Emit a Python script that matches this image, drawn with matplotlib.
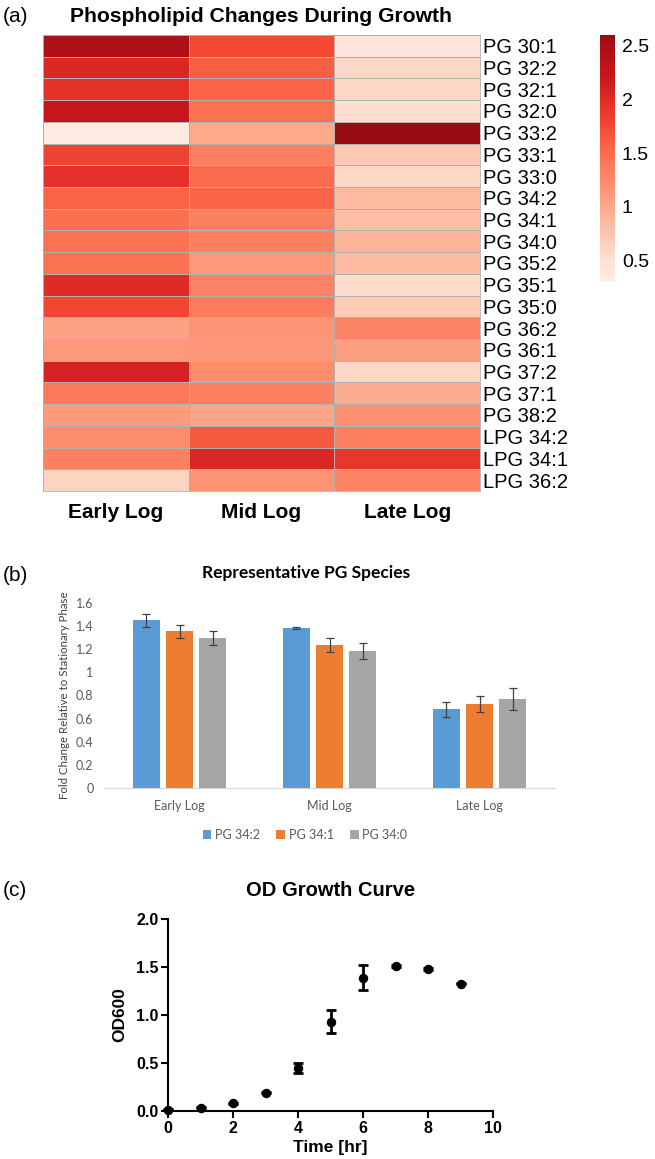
import numpy as np
import matplotlib
matplotlib.use("Agg")
import matplotlib.pyplot as plt
from matplotlib.colors import LinearSegmentedColormap

# ---- data ----
lipids = ["PG 30:1", "PG 32:2", "PG 32:1", "PG 32:0", "PG 33:2", "PG 33:1",
          "PG 33:0", "PG 34:2", "PG 34:1", "PG 34:0", "PG 35:2", "PG 35:1",
          "PG 35:0", "PG 36:2", "PG 36:1", "PG 37:2", "PG 37:1", "PG 38:2",
          "LPG 34:2", "LPG 34:1", "LPG 36:2"]
phases = ["Early Log", "Mid Log", "Late Log"]
early = [2.45, 2.05, 1.95, 2.25, 0.35, 1.80, 1.95, 1.55, 1.47, 1.45, 1.45,
         2.00, 1.78, 1.05, 1.12, 2.10, 1.40, 1.10, 1.22, 1.32, 0.62]
mid = [1.75, 1.60, 1.55, 1.45, 1.00, 1.35, 1.50, 1.55, 1.35, 1.32, 1.12,
       1.30, 1.36, 1.15, 1.13, 1.22, 1.32, 1.04, 1.65, 2.05, 1.17]
late = [0.45, 0.60, 0.60, 0.52, 2.60, 0.72, 0.58, 0.85, 0.82, 0.90, 0.85,
        0.55, 0.70, 1.30, 1.08, 0.58, 0.97, 1.20, 1.32, 1.90, 1.30]

species = ["PG 34:2", "PG 34:1", "PG 34:0"]
fold_mean = {"PG 34:2": [1.45, 1.385, 0.68],
             "PG 34:1": [1.355, 1.235, 0.73],
             "PG 34:0": [1.30, 1.185, 0.77]}
fold_err = {"PG 34:2": [0.055, 0.01, 0.062],
            "PG 34:1": [0.055, 0.06, 0.07],
            "PG 34:0": [0.06, 0.065, 0.095]}
bar_colors = ["#5B9BD5", "#ED7D31", "#A5A5A5"]

time_hr = [0, 1, 2, 3, 4, 5, 6, 7, 8, 9]
od600 = [0.014, 0.035, 0.08, 0.19, 0.45, 0.93, 1.386, 1.508, 1.48, 1.328]
od_err = [0.005, 0.005, 0.005, 0.005, 0.054, 0.118, 0.13, 0.01, 0.01, 0.01]

W, H = 655, 1159
fig = plt.figure(figsize=(W / 100, H / 100), dpi=100)


def px_axes(l, t, r, b):
    return fig.add_axes([l / W, 1 - b / H, (r - l) / W, (b - t) / H])


# ---- (a) heatmap ----
arial = "Liberation Sans"
cmap = LinearSegmentedColormap.from_list(
    "reds_cut", plt.cm.Reds(np.linspace(0.05, 0.9, 256)))
grid = np.column_stack([early, mid, late])

ax = px_axes(43, 35, 480, 491)
mesh = ax.pcolormesh(grid, cmap=cmap, vmin=0.3, vmax=2.6,
                     edgecolors="#B0B0B0", linewidth=0.6)
ax.set_xlim(0, 3)
ax.set_ylim(len(lipids), 0)
ax.set_xticks(np.arange(3) + 0.5)
ax.set_xticklabels(phases, fontsize=15, fontweight="bold", family=arial)
ax.set_yticks(np.arange(len(lipids)) + 0.5)
ax.set_yticklabels(lipids, fontsize=14.5, family=arial)
ax.yaxis.tick_right()
ax.tick_params(axis="both", length=0)
ax.tick_params(axis="x", pad=9)
ax.tick_params(axis="y", pad=2)
for s in ax.spines.values():
    s.set_color("#B0B0B0")
    s.set_linewidth(0.6)

cax = px_axes(600, 35, 615, 282)
cb = fig.colorbar(mesh, cax=cax, ticks=[0.5, 1, 1.5, 2, 2.5])
cb.ax.set_yticklabels(["0.5", "1", "1.5", "2", "2.5"], family=arial)
cb.outline.set_visible(False)
cb.ax.tick_params(length=0, labelsize=14, pad=5)

fig.text(3 / W, 1 - 16 / H, "(a)", fontsize=15, family=arial, va="center")
fig.text(261 / W, 1 - 16 / H, "Phospholipid Changes During Growth",
         fontsize=15.2, fontweight="bold", family=arial, ha="center", va="center")

# ---- (b) bar chart ----
calib = "Lato"
axb = px_axes(104.5, 603, 554.5, 788)
x = np.arange(len(phases))
for i, sp in enumerate(species):
    axb.bar(x + (i - 1) * 0.222, fold_mean[sp], 0.178, color=bar_colors[i],
            yerr=fold_err[sp], label=sp,
            error_kw=dict(ecolor="#404040", elinewidth=0.9, capsize=3, capthick=0.9))
axb.set_xlim(-0.5, 2.5)
axb.set_ylim(0, 1.6)
axb.set_yticks(np.arange(0, 1.61, 0.2))
axb.set_yticklabels([f"{v:g}" for v in np.round(np.arange(0, 1.61, 0.2), 1)])
axb.set_xticks(x)
axb.set_xticklabels(phases)
for lab in axb.get_xticklabels() + axb.get_yticklabels():
    lab.set_family(calib)
    lab.set_fontsize(9)
    lab.set_color("#595959")
axb.tick_params(length=0)
axb.tick_params(axis="y", pad=8)
axb.tick_params(axis="x", pad=9)
for k in ["top", "right", "left"]:
    axb.spines[k].set_visible(False)
axb.spines["bottom"].set_color("#D9D9D9")
axb.set_ylabel("Fold Change Relative to Stationary Phase", fontsize=8.3,
               family=calib, color="#404040", labelpad=4)
axb.legend(loc="center", bbox_to_anchor=(305 / W, 1 - 835 / H),
           bbox_transform=fig.transFigure, ncol=3, frameon=False,
           handlelength=0.7, handleheight=0.7, handletextpad=0.3,
           columnspacing=1.3, prop={"family": calib, "size": 9},
           labelcolor="#595959")
fig.text(306 / W, 1 - 573 / H, "Representative PG Species", fontsize=12.5,
         fontweight="bold", family=calib, ha="center", va="center")
fig.text(3 / W, 1 - 575 / H, "(b)", fontsize=15, family=arial, va="center")

# ---- (c) growth curve ----
axc = px_axes(168, 919, 493, 1111)
axc.errorbar(time_hr, od600, yerr=od_err, fmt="o", color="black",
             markersize=5.8, elinewidth=2, capsize=3.5, capthick=2, clip_on=False)
axc.set_xlim(0, 10)
axc.set_ylim(0, 2.0)
axc.set_xticks([0, 2, 4, 6, 8, 10])
axc.set_yticks([0, 0.5, 1.0, 1.5, 2.0])
axc.set_yticklabels(["0.0", "0.5", "1.0", "1.5", "2.0"])
for lab in axc.get_xticklabels() + axc.get_yticklabels():
    lab.set_family(arial)
    lab.set_fontweight("bold")
    lab.set_fontsize(11.5)
axc.tick_params(direction="out", length=5, width=1.5, pad=2)
for k in ["top", "right"]:
    axc.spines[k].set_visible(False)
for k in ["left", "bottom"]:
    axc.spines[k].set_linewidth(1.5)
axc.set_xlabel("Time [hr]", fontsize=12.5, fontweight="bold", family=arial, labelpad=3)
axc.set_ylabel("OD600", fontsize=12.5, fontweight="bold", family=arial, labelpad=6)
fig.text(331 / W, 1 - 891 / H, "OD Growth Curve", fontsize=14.5,
         fontweight="bold", family=arial, ha="center", va="center")
fig.text(3 / W, 1 - 890 / H, "(c)", fontsize=15, family=arial, va="center")

fig.savefig("out.png", dpi=100)
